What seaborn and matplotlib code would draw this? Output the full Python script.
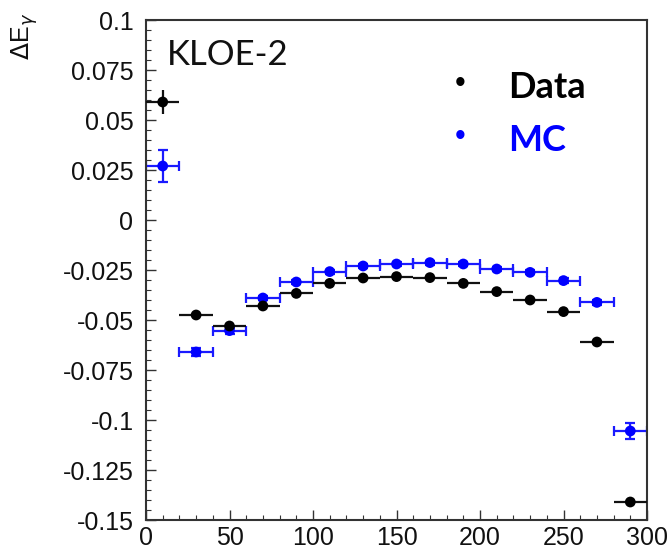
import numpy as np
import pandas as pd
import matplotlib
matplotlib.use("Agg")
import matplotlib.pyplot as plt
import seaborn as sns
from matplotlib.ticker import MultipleLocator

# ---- data ----
bin_centers = [10, 30, 50, 70, 90, 110, 130, 150, 170, 190, 210, 230, 250, 270, 290]
bin_halfwidth = [10] * 15
data_vals = [0.059, -0.0475, -0.053, -0.043, -0.0367, -0.0317, -0.029, -0.0283, -0.0288,
             -0.0317, -0.0358, -0.040, -0.0458, -0.061, -0.141]
data_err = [0.006, 0.0008, 0.0008, 0.0008, 0.0008, 0.0008, 0.0008, 0.0008, 0.0008,
            0.0008, 0.0008, 0.0008, 0.0008, 0.0008, 0.0008]
mc_vals = [0.027, -0.066, -0.0553, -0.039, -0.031, -0.0258, -0.023, -0.022, -0.0213,
           -0.022, -0.0245, -0.0262, -0.0303, -0.0412, -0.1055]
mc_err = [0.008, 0.0018, 0.0015, 0.0012, 0.001, 0.001, 0.001, 0.001, 0.001,
          0.001, 0.001, 0.001, 0.0012, 0.0012, 0.004]
x_ticks = [0, 50, 100, 150, 200, 250, 300]
y_ticks = [-0.15, -0.125, -0.1, -0.075, -0.05, -0.025, 0, 0.025, 0.05, 0.075, 0.1]
y_tick_labels = ["-0.15", "-0.125", "-0.1", "-0.075", "-0.05", "-0.025", "0",
                 "0.025", "0.05", "0.075", "0.1"]

df = pd.DataFrame({
    "x": bin_centers * 2,
    "y": mc_vals + data_vals,
    "series": ["MC"] * 15 + ["Data"] * 15,
})

sns.set_theme(style="white")
plt.rcParams["font.family"] = ["Liberation Sans", "DejaVu Sans"]

fig = plt.figure(figsize=(6.7, 5.55), dpi=100)
ax = fig.add_axes([146 / 670, 1 - 520 / 555, (647 - 146) / 670, 500 / 555])

# error bars
ax.errorbar(bin_centers, mc_vals, xerr=bin_halfwidth, yerr=mc_err, fmt="none",
            ecolor="#1a1aff", elinewidth=1.6, capsize=3.5, capthick=1.6, zorder=2)
ax.errorbar(bin_centers, data_vals, xerr=bin_halfwidth, yerr=data_err, fmt="none",
            ecolor="#111111", elinewidth=1.6, capsize=0, zorder=3)

sns.scatterplot(data=df, x="x", y="y", hue="series",
                palette={"MC": "#0000ff", "Data": "#000000"},
                s=60, edgecolor="none", legend=False, ax=ax, zorder=4)

ax.set_xlim(0, 300)
ax.set_ylim(-0.15, 0.1)
ax.set_xticks(x_ticks)
ax.set_xticklabels([str(v) for v in x_ticks])
ax.set_yticks(y_ticks)
ax.set_yticklabels(y_tick_labels)
ax.xaxis.set_minor_locator(MultipleLocator(10))
ax.yaxis.set_minor_locator(MultipleLocator(0.005))
ax.tick_params(axis="both", which="major", direction="in", length=7, width=1.0,
               color="#333333", labelsize=18, labelcolor="#111111")
ax.tick_params(axis="y", which="major", pad=9)
ax.tick_params(axis="x", which="major", pad=4)
ax.tick_params(axis="both", which="minor", direction="in", length=3.5, width=0.8,
               color="#333333")
ax.tick_params(top=False, right=False, which="both")
ax.tick_params(left=True, bottom=True, which="both")
ax.set_xlabel("")
ax.set_ylabel("")
for s in ax.spines.values():
    s.set_color("#333333")
    s.set_linewidth(1.5)

# y label ROOT style
fig.text(25 / 670, 1 - 13 / 555, r"$\Delta$E$_{\gamma}$", rotation=90, ha="center",
         va="top", fontsize=18, color="#111111")

# annotations
fig.text(167 / 670, 1 - 65 / 555, "KLOE-2", fontsize=25, family=["Lato", "DejaVu Sans"],
         color="#111111", ha="left", va="baseline")
fig.text(508 / 670, 1 - 98 / 555, "Data", fontsize=26, fontweight="bold",
         family=["Lato", "DejaVu Sans"], color="#000000", ha="left", va="baseline")
fig.text(508 / 670, 1 - 151 / 555, "MC", fontsize=26, fontweight="bold",
         family=["Lato", "DejaVu Sans"], color="#0000ff", ha="left", va="baseline")
fig.text(460 / 670, 1 - 84 / 555, "\u2022", fontsize=22, color="#000000",
         ha="center", va="center")
fig.text(460 / 670, 1 - 137 / 555, "\u2022", fontsize=22, color="#0000ff",
         ha="center", va="center")

fig.savefig("out.png", dpi=100)
